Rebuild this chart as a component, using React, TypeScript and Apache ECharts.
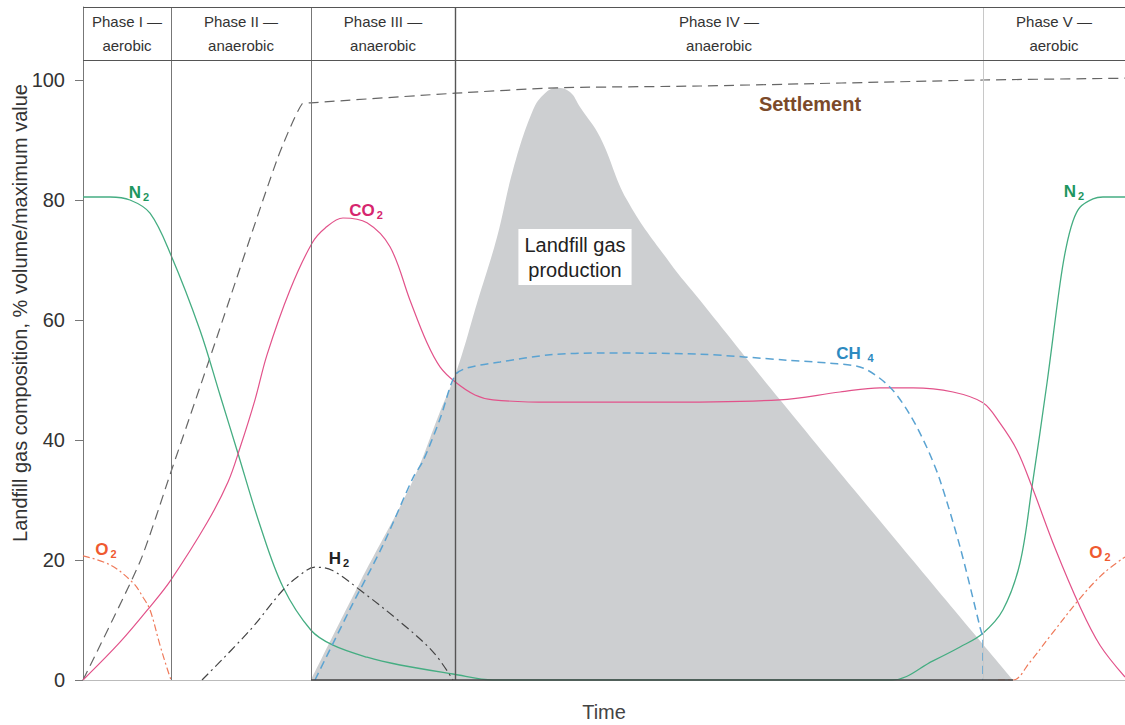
import React, { useEffect, useRef } from "react";
import * as echarts from "echarts";

// ---- axes / frame ----
const TIME_MAX = 104.2;
const Y_MAX = 112.17;
const HEADER_BOTTOM = 103.33;
const yTicks = [0, 20, 40, 60, 80, 100];
const phaseNames = [
  "Phase I —\naerobic",
  "Phase II —\nanaerobic",
  "Phase III —\nanaerobic",
  "Phase IV —\nanaerobic",
  "Phase V —\naerobic",
];
const phaseBounds = [0, 8.8, 22.8, 37.2, 90, 104.2];
const phaseLineColors = ["#777", "#777", "#555", "#c8c8c8"];

// ---- landfill gas production (grey area) ----
const gasTime = [22.8, 27.7, 33, 35.7, 37.4, 39.4, 41.4, 43, 45, 46.2, 47.4, 48.7, 49.7, 51.7, 54.4, 58.7, 61.7, 69.7, 81.7, 93];
const gasValue = [0, 16.3, 33.3, 44.7, 51.7, 62.8, 73.8, 85, 95, 97.8, 98.7, 98, 95.5, 90.5, 80, 69.5, 63.3, 46.7, 22.5, 0];

// ---- N2 ----
const n2Time = [0, 2.7, 4.7, 6.7, 8.8, 11.7, 13.7, 15.4, 17.7, 20, 22.8, 25, 28.4, 31.7, 37, 41, 80.9, 85, 87.7, 90, 92, 93.7, 94.9, 96.4, 97.7, 98.3, 99, 99.7, 101, 102, 104.2];
const n2Value = [80.5, 80.5, 80, 77.8, 70.8, 58.3, 47.5, 38.3, 25.8, 15.5, 8.3, 5.8, 3.8, 2.5, 1, 0, 0, 3.2, 5.5, 7.8, 11.7, 19.5, 32.2, 49.5, 66, 72, 76.5, 78.8, 80.2, 80.5, 80.5];

// ---- CO2 ----
const co2Time = [0, 3.7, 6.7, 8.8, 12.4, 14.5, 15.7, 17.2, 18.4, 20.7, 22.9, 24.2, 26, 28.4, 30.7, 32.7, 34.4, 35.7, 37.2, 39.2, 41, 46.7, 56.7, 69.7, 75.7, 79.7, 83, 87, 90, 91.7, 93.4, 94.9, 97.2, 99.7, 101.7, 104.2];
const co2Value = [0, 6.3, 12.2, 16.7, 26.2, 33, 38.7, 46.7, 54.2, 65, 72.8, 75.3, 77, 76.2, 72.2, 63.3, 56.2, 52.2, 49.7, 47.5, 46.7, 46.3, 46.3, 46.7, 48, 48.7, 48.7, 48, 46.2, 42.8, 38.3, 32.2, 22, 12.2, 5.8, 0.5];

// ---- CH4 ----
const ch4Time = [23.2, 26.7, 30, 33, 34, 35.7, 37.2, 38.4, 41.7, 46.7, 51.7, 61.7, 70.4, 74.7, 78, 80.7, 82.7, 84.4, 85.7, 87.7, 89.7, 90, 90];
const ch4Value = [0, 11.8, 22.5, 33.7, 36.5, 43.5, 50.8, 52, 53, 54.2, 54.5, 54.3, 53.3, 52.8, 52, 48.8, 44.2, 38.7, 33.3, 22.2, 8.8, 6.7, 0];

// ---- O2 ----
const o2Time = [0, 2.7, 5, 6, 6.7, 7.7, 8.4, 8.8, null, 91.5, 93, 94.7, 96.7, 100, 102.2, 104.2];
const o2Value = [20.7, 19.2, 16.2, 13.8, 11.7, 5.8, 2, 0, null, 0, 0, 3, 7.3, 14.2, 18, 20.5];

// ---- H2 ----
const h2Time = [11.9, 16.7, 20, 21.7, 23.2, 24.9, 27.7, 31.7, 35, 37];
const h2Value = [0, 8.3, 15, 17.5, 18.8, 18.3, 15, 9.7, 4.7, 0];

// ---- settlement ----
const settleTime = [0, 5.7, 8.8, 12.9, 19.4, 21.9, 22.8, 37.2, 47.4, 61.7, 90, 104.2];
const settleValue = [0, 19.7, 34.7, 54.7, 86.7, 96, 96.2, 97.8, 98.7, 99, 100, 100.3];

const zip = (t: (number | null)[], v: (number | null)[]) =>
  t.map((x, i) => (x === null ? ["-", "-"] : [x, v[i]]));

const FONT = "'Liberation Sans', Arial, Helvetica, sans-serif";

const subLabel = (
  coord: number[],
  main: string,
  sub: string,
  color: string
) => ({
  coord,
  value: 0,
  label: {
    show: true,
    position: "inside",
    formatter: `{a|${main}}{b|${sub}}`,
    rich: {
      a: { fontSize: 17, fontWeight: "bold", color, fontFamily: FONT, lineHeight: 20 },
      b: {
        fontSize: 11,
        fontWeight: "bold",
        color,
        fontFamily: FONT,
        verticalAlign: "bottom",
        lineHeight: 14,
        padding: [0, 0, 0, 2],
      },
    },
  },
});

const markPointBase = {
  symbol: "rect",
  symbolSize: 1,
  silent: true,
  itemStyle: { color: "rgba(0,0,0,0)" },
};

export default function App() {
  const ref = useRef<HTMLDivElement>(null);

  useEffect(() => {
    document.body.style.margin = "0";
    const chart = echarts.init(ref.current!, null, { renderer: "svg" });

    const phaseLines = phaseBounds.slice(1, 5).map((x, i) => ({
      xAxis: x,
      lineStyle: { color: phaseLineColors[i], width: i === 2 ? 1.4 : 1, type: "solid" },
    }));

    const headerAreas = phaseNames.map((name, i) => [
      { xAxis: phaseBounds[i], yAxis: HEADER_BOTTOM, name },
      { xAxis: phaseBounds[i + 1], yAxis: Y_MAX },
    ]);

    const option: any = {
      animation: false,
      textStyle: { fontFamily: FONT },
      grid: { left: 83, right: 0, top: 7, bottom: 45, containLabel: false, outerBoundsMode: "none" },
      xAxis: {
        type: "value",
        min: 0,
        max: TIME_MAX,
        name: "Time",
        nameLocation: "middle",
        nameGap: 22,
        nameTextStyle: { fontSize: 20, color: "#444", fontFamily: FONT },
        axisLine: { show: true, lineStyle: { color: "#bbb" } },
        axisTick: { show: false },
        axisLabel: { show: false },
        splitLine: { show: false },
      },
      yAxis: {
        type: "value",
        min: 0,
        max: Y_MAX,
        axisLine: { show: true, lineStyle: { color: "#777" } },
        axisTick: { show: true, length: 8, customValues: yTicks, lineStyle: { color: "#777" } },
        axisLabel: { customValues: yTicks, fontSize: 20, color: "#333", margin: 18, fontFamily: FONT },
        splitLine: { show: false },
      },
      graphic: [
        {
          type: "text",
          x: 20,
          y: 313,
          rotation: Math.PI / 2,
          style: {
            text: "Landfill gas composition, % volume/maximum value",
            fontSize: 20,
            fill: "#333",
            fontFamily: FONT,
            textAlign: "center",
            textVerticalAlign: "middle",
          },
        },
      ],
      series: [
        {
          name: "Landfill gas production",
          type: "line",
          data: zip(gasTime, gasValue),
          smooth: 0.4,
          symbol: "none",
          lineStyle: { width: 0 },
          areaStyle: { color: "#cdcfd1", opacity: 1 },
          z: 1,
          markArea: {
            silent: true,
            itemStyle: { color: "rgba(0,0,0,0)" },
            label: {
              show: true,
              position: "inside",
              color: "#333",
              fontSize: 15,
              lineHeight: 24,
              fontFamily: FONT,
            },
            data: headerAreas,
          },
          markLine: {
            silent: true,
            symbol: "none",
            label: { show: false },
            data: [
              ...phaseLines,
              { yAxis: HEADER_BOTTOM, lineStyle: { color: "#555", width: 1, type: "solid" } },
              { yAxis: Y_MAX, lineStyle: { color: "#555", width: 1, type: "solid" } },
              [
                { coord: [phaseBounds[2], 0], lineStyle: { color: "#444", width: 1.6, type: "solid" } },
                { coord: [gasTime[gasTime.length - 1], 0] },
              ],
            ],
          },
          markPoint: {
            ...markPointBase,
            data: [
              {
                coord: [49.2, 70.5],
                value: 0,
                label: {
                  show: true,
                  position: "inside",
                  formatter: "Landfill gas\nproduction",
                  backgroundColor: "#fff",
                  padding: [3, 6],
                  fontSize: 20,
                  lineHeight: 25,
                  color: "#222",
                  fontFamily: FONT,
                },
              },
            ],
          },
        },
        {
          name: "Settlement",
          type: "line",
          data: zip(settleTime, settleValue),
          smooth: 0.2,
          symbol: "none",
          lineStyle: { color: "#666", width: 1.2, type: [10, 6] },
          z: 3,
          markPoint: {
            ...markPointBase,
            data: [
              {
                coord: [72.7, 96],
                value: 0,
                label: {
                  show: true,
                  position: "inside",
                  formatter: "Settlement",
                  fontSize: 20,
                  fontWeight: "bold",
                  color: "#7b4a2a",
                  fontFamily: FONT,
                },
              },
            ],
          },
        },
        {
          name: "N2",
          type: "line",
          data: zip(n2Time, n2Value),
          smooth: 0.35,
          symbol: "none",
          lineStyle: { color: "#45ad82", width: 1.3 },
          z: 4,
          markPoint: {
            ...markPointBase,
            data: [
              subLabel([5.6, 81.3], "N", "2", "#1e9660"),
              subLabel([99.1, 81.5], "N", "2", "#1e9660"),
            ],
          },
        },
        {
          name: "CO2",
          type: "line",
          data: zip(co2Time, co2Value),
          smooth: 0.35,
          symbol: "none",
          lineStyle: { color: "#e2528a", width: 1.2 },
          z: 4,
          markPoint: {
            ...markPointBase,
            data: [subLabel([28.3, 78.3], "CO", "2", "#d6266e")],
          },
        },
        {
          name: "CH4",
          type: "line",
          data: zip(ch4Time, ch4Value),
          smooth: 0.3,
          symbol: "none",
          lineStyle: { color: "#5aa3d2", width: 1.5, type: [8, 5] },
          z: 4,
          markPoint: {
            ...markPointBase,
            data: [subLabel([77.2, 54.5], "CH ", "4", "#2d8ac0")],
          },
        },
        {
          name: "O2",
          type: "line",
          data: zip(o2Time, o2Value),
          smooth: 0.35,
          connectNulls: false,
          symbol: "none",
          lineStyle: { color: "#ef7a5a", width: 1.2, type: [7, 3, 2, 3] },
          z: 4,
          markPoint: {
            ...markPointBase,
            data: [
              subLabel([2.3, 21.8], "O", "2", "#ef5a30"),
              subLabel([101.7, 21.3], "O", "2", "#ef5a30"),
            ],
          },
        },
        {
          name: "H2",
          type: "line",
          data: zip(h2Time, h2Value),
          smooth: 0.35,
          symbol: "none",
          lineStyle: { color: "#444", width: 1.2, type: [9, 4, 2, 4] },
          z: 4,
          markPoint: {
            ...markPointBase,
            data: [subLabel([25.6, 20.3], "H", "2", "#222")],
          },
        },
      ],
    };

    chart.setOption(option);
    return () => chart.dispose();
  }, []);

  return <div ref={ref} style={{ width: 1125, height: 725 }} />;
}
